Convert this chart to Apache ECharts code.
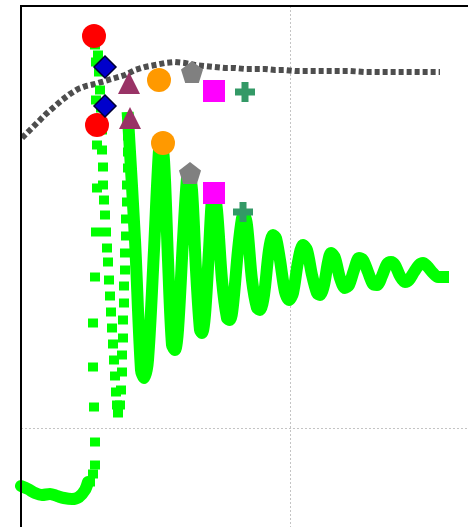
<!DOCTYPE html>
<html>
<head>
<meta charset="utf-8">
<script src="https://cdn.jsdelivr.net/npm/echarts@6/dist/echarts.min.js"></script>
<style>html,body{margin:0;padding:0;background:#fff;}#c{width:468px;height:527px;}</style>
</head>
<body>
<div id="c"></div>
<script>
// x: sample time, y: amplitude (zero line = horizontal gridline)
var xTicks = {min: 0, max: 538, interval: 269};
var yTicks = {min: -422, max: 422, interval: 422};

var greenStart = [[0,-58],[7,-61],[14,-65],[21,-67],[29,-66],[36,-68],[43,-70],[51,-71],[58,-69],[64,-62],[67,-54]];

var greenSparse = [
  [69,-54],[72,-46],[74,-37],[74,-14],[73,21],[72,61],[72,105],[74,151],[75,196],[76,240],[76,283],[75,328],[75,366],[74,383],
  [77,373],[78,356],[79,338],[80,320],[81,298],[81,278],[82,261],[82,243],[83,228],[84,213],[85,196],[86,180],[87,166],[88,148],[89,132],[90,116],[91,100],[92,84],[93,68],[94,52],[95,36],[96,23],[97,15],
  [99,23],[100,38],[101,56],[101,73],[102,90],[102,108],[103,125],[103,142],[104,158],[104,175],[105,192],[105,209],[106,226],[106,243],[107,260],[107,276],[107,292],[107,306]
];

var greenWave = [
  [107,310],[114,188],[120,58],[123,50],[127,68],[133,178],[138,278],[140,283],[143,268],[147,168],[151,83],[154,78],[157,98],[162,188],[166,250],[168,253],[171,238],[175,158],[179,98],[181,95],[184,113],[188,178],[191,230],[193,233],[196,218],[201,148],[206,110],[209,108],[212,123],[217,178],[221,210],[223,213],[226,203],[231,148],[236,120],[239,118],[243,133],[248,178],[252,193],[255,190],[259,168],[264,136],[268,128],[272,135],[277,166],[282,183],[286,178],[291,153],[296,135],[299,133],[303,143],[307,166],[310,175],[314,170],[319,150],[324,140],[328,143],[333,158],[338,170],[342,168],[347,156],[352,144],[356,143],[361,152],[366,164],[370,166],[374,163],[379,152],[384,146],[388,148],[393,156],[398,163],[402,165],[406,162],[412,155],[417,151],[422,151]
];

var blackCurve = [[1,290],[9,298],[17,306],[25,314],[33,321],[41,328],[49,334],[57,339],[65,342],[74,344],[84,347],[94,350],[104,353],[114,358],[124,361],[134,363],[144,365],[154,366],[164,365],[174,363],[184,362],[194,361],[204,360],[214,360],[224,359],[234,359],[244,359],[254,358],[264,358],[274,357],[284,357],[299,357],[314,357],[329,357],[344,356],[359,356],[374,356],[389,356],[404,356],[419,356]];

var redPts = [[73,392],[76,303]];
var bluePts = [[84,361],[84,322]];
var purplePts = [[108,345],[109,310]];
var orangePts = [[138,348],[142,285]];
var grayPts = [[171,356],[169,255]];
var magentaPts = [[193,337],[193,235]];
var tealPts = [[224,336],[222,216]];

var PENTAGON = 'path://M0,-10 L9.5,-3.1 L5.9,8.1 L-5.9,8.1 L-9.5,-3.1 Z';
var PLUS = 'path://M-3.5,-10 H3.5 V-3.5 H10 V3.5 H3.5 V10 H-3.5 V3.5 H-10 V-3.5 H-3.5 Z';

function marker(data, symbol, size, color, border) {
  return {
    type: 'scatter', data: data, symbol: symbol, symbolSize: size, z: 10,
    itemStyle: {color: color, borderColor: border || color, borderWidth: border ? 1.5 : 0, opacity: 1}
  };
}

var chart = echarts.init(document.getElementById('c'), null, {renderer: 'canvas'});
chart.setOption({
  animation: false,
  backgroundColor: '#fff',
  grid: {left: 21, top: 6, right: -91, bottom: -323, outerBoundsMode: 'none', containLabel: false,
    show: true, borderColor: '#000', borderWidth: 2, backgroundColor: 'transparent', z: 5},
  xAxis: {type: 'value', min: xTicks.min, max: xTicks.max, interval: xTicks.interval,
    axisLine: {show: false}, axisTick: {show: false}, axisLabel: {show: false},
    splitLine: {show: true, lineStyle: {color: '#c4c4c4', type: [2, 2], width: 1}}},
  yAxis: {type: 'value', min: yTicks.min, max: yTicks.max, interval: yTicks.interval,
    axisLine: {show: false}, axisTick: {show: false}, axisLabel: {show: false},
    splitLine: {show: true, lineStyle: {color: '#c4c4c4', type: [2, 2], width: 1}}},
  series: [
    {type: 'line', data: greenStart, showSymbol: false, smooth: 0.3,
      lineStyle: {color: '#00ff00', width: 12, cap: 'round', join: 'round'}},
    {type: 'line', data: greenSparse, symbol: 'rect', symbolSize: [10, 9],
      itemStyle: {color: '#00ff00'}, lineStyle: {width: 0, opacity: 0}},
    {type: 'line', data: greenWave, showSymbol: false, smooth: 0.3,
      lineStyle: {color: '#00ff00', width: 12, cap: 'square', join: 'round'}},
    {type: 'line', data: blackCurve, showSymbol: false,
      lineStyle: {color: '#222', width: 6, type: [5, 3], opacity: 0.8}},
    marker(redPts, 'circle', 24, '#ff0000'),
    marker(bluePts, 'diamond', 22, '#0000cc', '#000033'),
    marker(purplePts, 'triangle', 22, '#993366'),
    marker(orangePts, 'circle', 24, '#ff9900'),
    marker(grayPts, PENTAGON, 22, '#808080'),
    marker(magentaPts, 'rect', 22, '#ff00ff'),
    marker(tealPts, PLUS, 20, '#339966')
  ]
});
</script>
</body>
</html>
